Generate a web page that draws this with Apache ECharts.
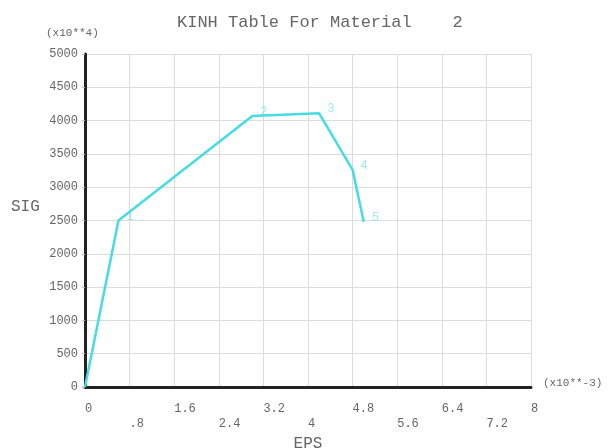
<!DOCTYPE html>
<html>
<head>
<meta charset="utf-8">
<script src="https://cdn.jsdelivr.net/npm/echarts@6/dist/echarts.min.js"></script>
<style>
html, body { margin: 0; padding: 0; background: #fff; }
#chart { width: 608px; height: 448px; }
</style>
</head>
<body>
<div id="chart"></div>
<script>
// EPS (x10**-3) and SIG (x10**4) table points
const eps = [0, 0.6, 3.0, 4.2, 4.8, 5.0];
const sig = [0, 2500, 4070, 4110, 3260, 2480];
const pointLabels = ['', '1', '2', '3', '4', '5'];

const mono = 'Liberation Mono';
const grey = '#666';
const cyan = '#45dde3';

const chart = echarts.init(document.getElementById('chart'));

// ANSYS style: odd ticks drop to a second row, leading zero removed
const fmtX = v => {
	const r = Math.round(v * 10) / 10;
	let s = String(r);
	if (s.startsWith('0.')) s = s.slice(1);
	const idx = Math.round(r / 0.8);
	return idx % 2 === 1 ? '\n' + s : s;
};

chart.setOption({
	animation: false,
	title: {
		text: 'KINH Table For Material    2',
		left: 172,
		top: 9,
		textStyle: {
			fontFamily: mono,
			fontSize: 17,
			fontWeight: 'normal',
			color: grey
		}
	},
	grid: {
		left: 85,
		top: 54,
		right: 77,
		bottom: 61,
		outerBoundsMode: 'none'
	},
	xAxis: {
		type: 'value',
		min: 0,
		max: 8,
		interval: 0.8,
		name: 'EPS',
		nameLocation: 'middle',
		nameGap: 41,
		nameTextStyle: { fontFamily: mono, fontSize: 16, color: grey },
		axisLine: { show: true, onZero: false, lineStyle: { color: '#222', width: 3 } },
		axisTick: { show: false },
		axisLabel: {
			formatter: fmtX,
			fontFamily: mono,
			fontSize: 12,
			color: grey,
			margin: 14,
			lineHeight: 15,
			align: 'left',
			showMaxLabel: true
		},
		splitLine: { show: true, lineStyle: { color: '#dcdcdc', width: 1 } }
	},
	yAxis: {
		type: 'value',
		min: 0,
		max: 5000,
		interval: 500,
		axisLine: { show: true, lineStyle: { color: '#222', width: 3 } },
		axisTick: { show: true, length: 3, lineStyle: { color: '#bbb' } },
		axisLabel: {
			formatter: v => String(v),
			fontFamily: mono,
			fontSize: 12,
			color: grey,
			margin: 7
		},
		splitLine: { show: true, lineStyle: { color: '#dcdcdc', width: 1 } }
	},
	graphic: [
		{
			type: 'text', left: 46, top: 28,
			style: { text: '(x10**4)', font: '11px "Liberation Mono"', fill: grey }
		},
		{
			type: 'text', left: 11, top: 199,
			style: { text: 'SIG', font: '16px "Liberation Mono"', fill: grey }
		},
		{
			type: 'text', left: 543, top: 378,
			style: { text: '(x10**-3)', font: '11px "Liberation Mono"', fill: grey }
		}
	],
	series: [{
		type: 'line',
		data: eps.map((x, i) => [x, sig[i]]),
		symbol: 'none',
		lineStyle: { color: cyan, width: 2.5 }
	}, {
		type: 'scatter',
		data: eps.map((x, i) => [x, sig[i]]),
		symbolSize: 0,
		label: {
			show: true,
			position: 'right',
			distance: 8,
			offset: [0, -4],
			formatter: p => pointLabels[p.dataIndex],
			fontFamily: mono,
			fontSize: 12,
			color: '#86e6ea'
		},
		silent: true
	}]
});
</script>
</body>
</html>
